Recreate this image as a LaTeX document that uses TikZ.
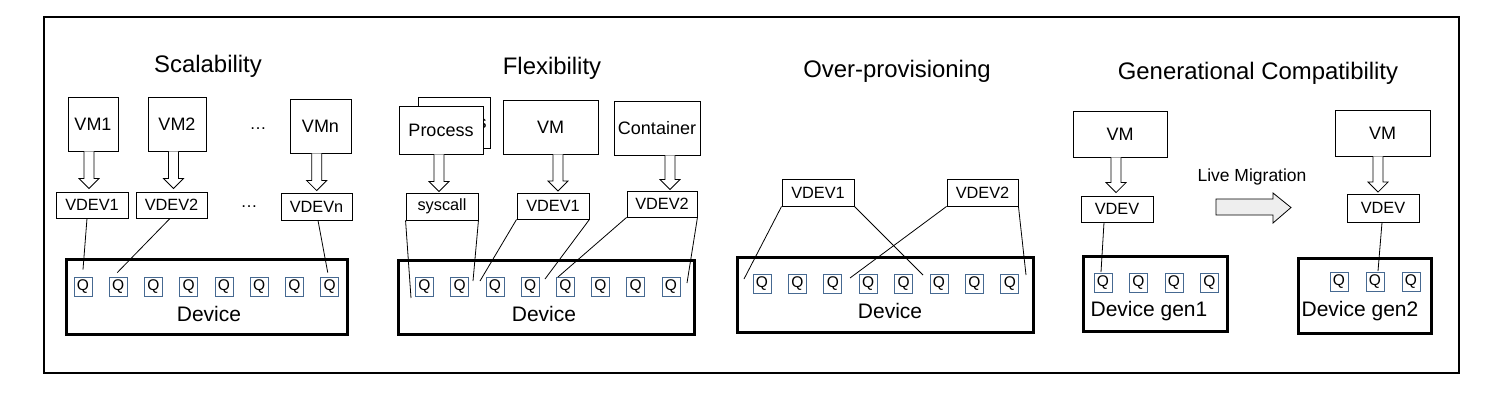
\documentclass[tikz,border=0pt]{standalone}
\usepackage{fontspec}
\setmainfont{Liberation Sans}
\usetikzlibrary{calc}
\definecolor{qblue}{RGB}{70,105,145}
\definecolor{arrgray}{RGB}{238,238,238}
\newcommand\fs[1]{\fontsize{#1}{#1}\selectfont}
\tikzset{
  box/.style={draw=black, line width=0.9pt, fill=white, inner sep=0pt, font=\fs{18}},
  vdevbox/.style={draw=black, line width=0.9pt, fill=white, inner sep=0pt, font=\fs{16.3}},
  devbox/.style={draw=black, line width=3pt, inner sep=0pt},
  qbox/.style={draw=qblue, line width=0.8pt, fill=white, inner sep=0pt, minimum width=18, minimum height=19, font=\fs{15.5}},
  title/.style={inner sep=0pt, font=\fs{23.9}},
  devlabel/.style={inner sep=0pt, font=\fs{21}},
  link/.style={draw=black, line width=0.8pt},
  hollow/.style={draw=black, line width=0.8pt, fill=white},
}
\newcommand\harrow[2]{\draw[hollow] let \p1=(#1), \p2=(#2) in
  (\x1-5pt,\y1) -- (\x1-5pt,\y2+10pt) -- (\x1-10pt,\y2+10pt) -- (\x1,\y2)
  -- (\x1+10pt,\y2+10pt) -- (\x1+5pt,\y2+10pt) -- (\x1+5pt,\y1);}
\begin{document}
\begin{tikzpicture}[x=1pt,y=-1pt]
\useasboundingbox (0,0) rectangle (1488,410);
\draw[line width=2pt] (43.5,16.5) rectangle (1459,373);

% ---------------- Scalability ----------------
\node[title] (t1) at (208,66) {Scalability};
\node[box, minimum width=50, minimum height=54] (vm1) at (93,124) {VM1};
\node[box, minimum width=58, minimum height=54] (vm2) at (177,124) {VM2};
\node[box, minimum width=61, minimum height=54] (vmn) at (320.5,126) {VMn};
\node[inner sep=0pt, anchor=base, font=\fs{17}] (d1) at (258,129) {…};
\node[vdevbox, minimum width=72, minimum height=26] (vdev1) at (92,205) {VDEV1};
\node[vdevbox, minimum width=71, minimum height=26] (vdev2) at (171.5,205) {VDEV2};
\node[vdevbox, minimum width=71, minimum height=27] (vdevn) at (316.5,206.5) {VDEVn};
\node[inner sep=0pt, anchor=base, font=\fs{17}] (d2) at (249,207) {…};
\node[devbox, minimum width=281, minimum height=75] (dev1) at (206.5,296.5) {};
\foreach \i in {1,...,8} {
  \node[qbox] (sq\i) at ({83+35.25*(\i-1)},286.5) {Q};
}
\node[devlabel] (dl1) at (209,314) {Device};
\harrow{$(vm1.south)+(-4,0)$}{$(vdev1.north)+(0,-3)$}
\harrow{$(vm2.south)+(-3.5,0)$}{$(vdev2.north)+(0,-3)$}
\harrow{$(vmn.south)+(-3.8,0)$}{$(vdevn.north)+(0,-2)$}
\draw[link] ($(vdev1.south)+(-5,0)$) -- ($(sq1.north)+(0,-7)$);
\draw[link] ($(vdev2.south)+(-1.5,0)$) -- ($(sq2.north)+(-1,-4)$);
\draw[link] ($(vdevn.south)+(1.5,0)$) -- ($(sq8.north)+(-2,-4)$);

% ---------------- Flexibility ----------------
\node[title] (t2) at (552,68) {Flexibility};
\node[box, minimum width=72, minimum height=51] (procb) at (454,122.5) {Process};
\node[box, minimum width=84, minimum height=48] (proc) at (441,130) {Process};
\node[box, minimum width=95, minimum height=54] (vmf) at (550.5,127) {VM};
\node[box, minimum width=86, minimum height=54] (cont) at (657,128) {Container};
\node[vdevbox, minimum width=72, minimum height=27] (sysc) at (442,206.5) {syscall};
\node[vdevbox, minimum width=72, minimum height=26] (fvdev1) at (553,206) {VDEV1};
\node[vdevbox, minimum width=70, minimum height=26] (fvdev2) at (662,204) {VDEV2};
\node[devbox, minimum width=296, minimum height=74] (dev2) at (546,297) {};
\foreach \i in {1,...,8} {
  \node[qbox] (fq\i) at ({424.5+35.2*(\i-1)},286.5) {Q};
}
\node[devlabel] (dl2) at (544,314) {Device};
\harrow{$(proc.south)+(-2,0)$}{$(sysc.north)+(0,-1)$}
\harrow{$(vmf.south)+(7.5,0)$}{$(fvdev1.north)+(0,-1.5)$}
\harrow{$(cont.south)+(13,0)$}{$(fvdev2.north)+(0,-1)$}
\coordinate (fe1) at (411,298);
\coordinate (fe2) at (473,281);
\coordinate (fe3) at (480,281);
\coordinate (fe4) at (545,279);
\coordinate (fe5) at (558,277);
\coordinate (fe6) at (687,283);
\draw[link] (sysc.south west) -- (fe1);
\draw[link] (sysc.south east) -- (fe2);
\draw[link] (fvdev1.south west) -- (fe3);
\draw[link] (fvdev1.south east) -- (fe4);
\draw[link] (fvdev2.south west) -- (fe5);
\draw[link] (fvdev2.south east) -- (fe6);

% ---------------- Over-provisioning ----------------
\node[title] (t3) at (897,71) {Over-provisioning};
\node[vdevbox, minimum width=72, minimum height=27] (ovdev1) at (818,192.5) {VDEV1};
\node[vdevbox, minimum width=71, minimum height=27] (ovdev2) at (982.5,192.5) {VDEV2};
\node[devbox, minimum width=296, minimum height=75] (dev3) at (885,294.5) {};
\foreach \i in {1,...,8} {
  \node[qbox] (oq\i) at ({762+35.4*(\i-1)},284) {Q};
}
\node[devlabel] (dl3) at (890,311) {Device};
\coordinate (oe1) at (744,279);
\coordinate (oe2) at (923,275);
\coordinate (oe3) at (850,278);
\coordinate (oe4) at (1026,275);
\draw[link] (ovdev1.south west) -- (oe1);
\draw[link] (ovdev1.south east) -- (oe2);
\draw[link] (ovdev2.south west) -- (oe3);
\draw[link] (ovdev2.south east) -- (oe4);

% ---------------- Generational Compatibility ----------------
\node[title] (t4) at (1258,73) {Generational Compatibility};
\node[box, minimum width=94, minimum height=46] (gvm1) at (1120,134) {VM};
\node[vdevbox, minimum width=72, minimum height=26] (gvdev1) at (1117,209) {VDEV};
\node[devbox, minimum width=144, minimum height=75] (gdev1) at (1155,293.5) {};
\foreach \i in {1,...,4} {
  \node[qbox] (gq\i) at ({1103+35.5*(\i-1)},283) {Q};
}
\node[devlabel] (gdl1) at (1149,311) {Device gen1};
\node[box, minimum width=95, minimum height=46] (gvm2) at (1382.5,133) {VM};
\node[vdevbox, minimum width=72, minimum height=28] (gvdev2) at (1383,208) {VDEV};
\node[devbox, minimum width=133, minimum height=75] (gdev2) at (1364.5,295.5) {};
\foreach \i/\x in {1/1339,2/1375,3/1411} {
  \node[qbox] (hq\i) at (\x,282) {Q};
}
\node[devlabel] (gdl2) at (1360,311) {Device gen2};
\harrow{$(gvm1.south)+(-4,0)$}{$(gvdev1.north)+(0,-3)$}
\harrow{$(gvm2.south)+(-4.5,0)$}{$(gvdev2.north)+(0,-1.5)$}
\draw[link] ($(gvdev1.south)+(-13,0)$) -- ($(gq1.north)+(-2,-1)$);
\draw[link] ($(gvdev2.south)+(-1,0)$) -- ($(hq2.north)+(3,-1)$);
\node[inner sep=0pt, font=\fs{17.5}] (lm) at (1252,177) {Live Migration};
\draw[draw=black, line width=0.8pt, fill=arrgray]
  (1216,199) -- (1273,199) -- (1273,193) -- (1291,207.5) -- (1273,223)
  -- (1273,215) -- (1216,215) -- cycle;
\end{tikzpicture}
\end{document}
